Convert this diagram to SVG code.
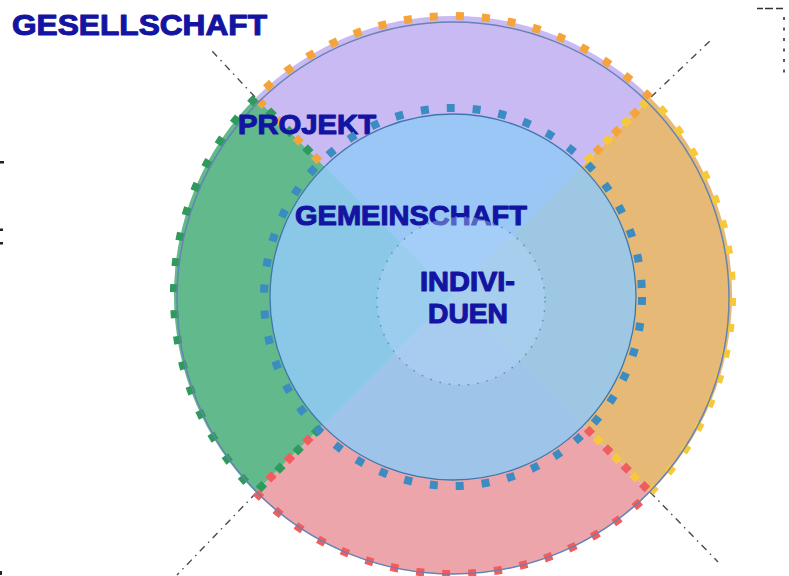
<svg xmlns="http://www.w3.org/2000/svg" width="789" height="576" viewBox="0 0 789 576">
<style>
.lbl{font-family:"Liberation Sans",Arial,sans-serif;font-weight:bold;fill:#1414a2;stroke:#1414a2;stroke-width:1.1;stroke-linejoin:round}
.dash{fill:none;stroke-width:8;stroke-dasharray:8 18}
.axis{fill:none;stroke:#4a4a4a;stroke-width:1.4;stroke-dasharray:7 5 1.5 5}
.edge{fill:#222}
</style>
<rect width="789" height="576" fill="#ffffff"/>
<g id="edges">
<rect class="edge" x="0" y="161" width="4" height="2.5"/>
<rect class="edge" x="0" y="228.5" width="3" height="2.5"/>
<rect class="edge" x="0" y="242" width="3" height="2.5"/>
<rect class="edge" x="0" y="571" width="2" height="4"/>
<path d="M757 8.5H785" stroke="#333" stroke-width="1.6" stroke-dasharray="6 2 8 3 7 2"/>
<path d="M784 17V76" stroke="#333" stroke-width="1.6" stroke-dasharray="3 7.5"/>
</g>
<g id="connectors">
<path class="axis" d="M255 97L212 51"/>
<path class="axis" d="M651 97L712 39"/>
<path class="axis" d="M256 493L177 575"/>
<path class="axis" d="M650 492L718 562"/>
</g>
<g id="projekt-wedges">
<path id="wedge-top" d="M453 295L255.7 97.7A279 279 0 0 1 650.3 97.7Z" fill="#c9baf3"/>
<path id="wedge-right" d="M453 295L650.3 97.7A279 279 0 0 1 650.3 492.3Z" fill="#e6b977"/>
<path id="wedge-bottom" d="M453 295L650.3 492.3A279 279 0 0 1 255.7 492.3Z" fill="#eca6ab"/>
<path id="wedge-left" d="M453 295L255.7 492.3A279 279 0 0 1 255.7 97.7Z" fill="#62b98b"/>
<path class="dash" d="M319.4 161.4L255.7 97.7A279 279 0 0 1 650.3 97.7L586.6 161.4" stroke="#f5a43c"/>
<path class="dash" d="M319.4 428.6L255.7 492.3A279 279 0 0 1 255.7 97.7L319.4 161.4" stroke="#2f9a5d"/>
<path class="dash" d="M586.6 161.4L650.3 97.7A279 279 0 0 1 650.3 492.3L586.6 428.6" stroke="#f7c83a"/>
<path class="dash" d="M586.6 428.6L650.3 492.3A279 279 0 0 1 255.7 492.3L319.4 428.6" stroke="#f25c5e"/>
</g>
<g id="gesellschaft">
<circle cx="453" cy="298" r="276" fill="none" stroke="#6683b3" stroke-width="1.5"/>
<text class="lbl" x="12" y="35" font-size="30" textLength="255" lengthAdjust="spacingAndGlyphs">GESELLSCHAFT</text>
</g>
<g id="projekt">
<text class="lbl" x="238" y="134" font-size="27" textLength="138" lengthAdjust="spacingAndGlyphs">PROJEKT</text>
</g>
<g id="gemeinschaft">
<circle cx="453" cy="297" r="183" fill="#92caf5" fill-opacity="0.86" stroke="#3f77ad" stroke-width="1.3"/>
<circle class="dash" cx="453" cy="297" r="189" stroke="#3a8cc3"/>
<text class="lbl" x="295" y="225" font-size="28" textLength="232" lengthAdjust="spacingAndGlyphs">GEMEINSCHAFT</text>
</g>
<g id="individuen">
<circle cx="461" cy="301" r="84" fill="#b4dafa" fill-opacity="0.4" stroke="#5b8cc2" stroke-width="1.5" stroke-dasharray="1.5 8"/>
<text class="lbl" x="420" y="291" font-size="27" textLength="95" lengthAdjust="spacingAndGlyphs">INDIVI-</text>
<text class="lbl" x="428" y="323" font-size="27" textLength="80" lengthAdjust="spacingAndGlyphs">DUEN</text>
</g>
</svg>
